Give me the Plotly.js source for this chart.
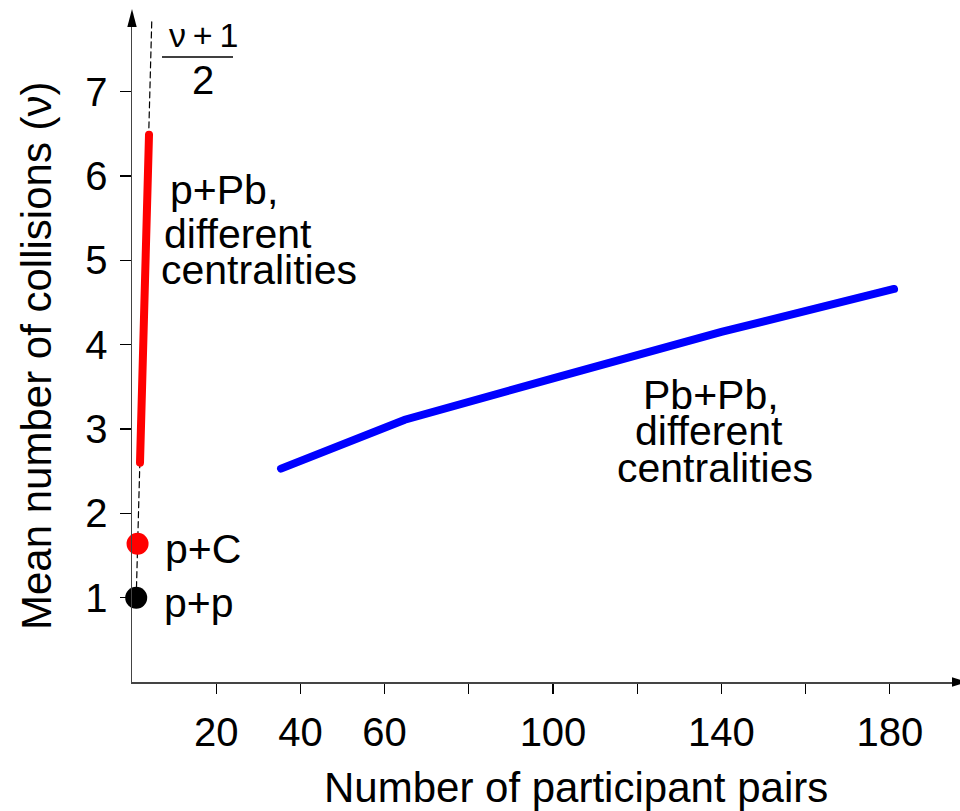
<!DOCTYPE html>
<html><head><meta charset="utf-8">
<script src="https://cdn.plot.ly/plotly-3.0.1.min.js"></script>
<style>html,body{margin:0;padding:0;background:#fff}#chart{width:960px;height:811px}.js-line{stroke-linecap:round}</style>
</head><body><div id="chart"></div>
<script>
// ---- data ----
const guideX = [1, 4.7];            // dashed (ν+1)/2 guide
const guideY = [1, 7.85];
const pPbX = [1.9, 4.04];           // p+Pb, different centralities
const pPbY = [2.6, 6.49];
const PbPbX = [35.4, 64.8, 100, 140, 181];   // Pb+Pb, different centralities
const PbPbY = [2.53, 3.11, 3.60, 4.15, 4.66];
const pCX = [1.32];  const pCY = [1.64];     // p+C
const ppX = [1];     const ppY = [1];        // p+p
const xTickVals = [20, 40, 60, 80, 100, 120, 140, 160, 180];
const xTickText = ['20', '40', '60', '', '100', '', '140', '', '180'];
const yTickVals = [1, 2, 3, 4, 5, 6, 7];
const yTickText = ['1', '2', '3', '4', '5', '6', '7'];
const longTickVals = [120];
const xTitle = 'Number of participant pairs';
const yTitle = 'Mean number of collisions (ν)';

// ---- layout geometry ----
const W = 960, H = 811;
const L = 132, R = 5, T = 18, B = 129;
const PW = W - L - R, PH = H - T - B;
const XMAX = PW / 4.21, YMAX = PH / 84.34;
const Y0 = H - B;
const FONT = 'Liberation Sans, Arial, Helvetica, sans-serif';
const px = x => (x - L) / PW;
const py = y => (Y0 - y) / PH;

function lab(text, xPix, basePix, anchor, size) {
  return {text: text, xref: 'paper', yref: 'paper', x: px(xPix), y: py(basePix - 0.35 * size),
    xanchor: anchor, yanchor: 'middle', showarrow: false, borderpad: 0,
    font: {family: FONT, size: size, color: '#000'}};
}

const traces = [
  {x: guideX, y: guideY, mode: 'lines', line: {color: '#000', width: 1.2, dash: '6px,4px'}, hoverinfo: 'skip'},
  {x: pPbX, y: pPbY, mode: 'lines', line: {color: '#ff0000', width: 8}, name: 'p+Pb'},
  {x: PbPbX, y: PbPbY, mode: 'lines', line: {color: '#0000ff', width: 8}, name: 'Pb+Pb'},
  {x: pCX, y: pCY, mode: 'markers', marker: {color: '#ff0000', size: 22}, cliponaxis: false, name: 'p+C'},
  {x: ppX, y: ppY, mode: 'markers', marker: {color: '#000', size: 22}, cliponaxis: false, name: 'p+p'}
];

const axBase = {showgrid: false, zeroline: false, fixedrange: true};
const layout = {
  width: W, height: H,
  margin: {l: L, r: R, t: T, b: B, pad: 0},
  paper_bgcolor: '#fff', plot_bgcolor: '#fff',
  showlegend: false,
  xaxis: Object.assign({}, axBase, {
    range: [0, XMAX], showline: true, linecolor: '#444', linewidth: 1.5,
    ticks: 'outside', ticklen: 10, tickwidth: 1.3, tickcolor: '#000',
    tickmode: 'array', tickvals: xTickVals, ticktext: xTickText,
    tickfont: {family: FONT, size: 40, color: '#000'}, ticklabelstandoff: 4
  }),
  xaxis2: Object.assign({}, axBase, {
    overlaying: 'x', anchor: 'y', side: 'bottom', range: [0, XMAX],
    ticks: 'inside', ticklen: 10, tickwidth: 1.3, tickcolor: '#000',
    tickmode: 'array', tickvals: xTickVals, showticklabels: false, showline: false
  }),
  xaxis3: Object.assign({}, axBase, {
    overlaying: 'x', anchor: 'y', side: 'bottom', range: [0, XMAX],
    ticks: 'outside', ticklen: 21, tickwidth: 1.3, tickcolor: '#000',
    tickmode: 'array', tickvals: longTickVals, showticklabels: false, showline: false
  }),
  yaxis: Object.assign({}, axBase, {
    range: [0, YMAX], showline: true, linecolor: '#444', linewidth: 1.5,
    ticks: 'outside', ticklen: 11, tickwidth: 1.3, tickcolor: '#000',
    tickmode: 'array', tickvals: yTickVals, ticktext: yTickText,
    tickfont: {family: FONT, size: 40, color: '#000'}, ticklabelstandoff: 4
  }),
  yaxis2: Object.assign({}, axBase, {
    overlaying: 'y', anchor: 'x', side: 'left', range: [0, YMAX],
    ticks: 'inside', ticklen: 8, tickwidth: 1.3, tickcolor: '#000',
    tickmode: 'array', tickvals: yTickVals, showticklabels: false, showline: false
  }),
  shapes: [
    // axis arrowheads
    {type: 'path', xref: 'paper', yref: 'paper', line: {width: 0}, fillcolor: '#000',
     path: 'M' + px(132) + ',' + py(9) + ' L' + px(127.3) + ',' + py(27) + ' L' + px(136.7) + ',' + py(27) + ' Z'},
    {type: 'path', xref: 'paper', yref: 'paper', line: {width: 0}, fillcolor: '#000',
     path: 'M' + px(968) + ',' + py(682) + ' L' + px(952) + ',' + py(677.3) + ' L' + px(952) + ',' + py(686.7) + ' Z'},
    // fraction bar of (ν+1)/2
    {type: 'line', xref: 'paper', yref: 'paper', x0: px(162), x1: px(233), y0: py(57), y1: py(57),
     line: {color: '#000', width: 1.3}}
  ],
  annotations: [
    lab('ν\u2009+\u20091', 203, 47, 'center', 34),
    lab('2', 202.5, 94, 'center', 40),
    lab('p+Pb,', 169, 204, 'left', 41),
    lab('different', 163, 248, 'left', 41),
    lab('centralities', 160, 284, 'left', 41),
    lab('Pb+Pb,', 711, 409, 'center', 41),
    lab('different', 709, 445, 'center', 41),
    lab('centralities', 715, 482, 'center', 41),
    lab('p+C', 164, 563, 'left', 41),
    lab('p+p', 163, 617, 'left', 41),
    lab(xTitle, 576, 802, 'center', 42),
    {text: yTitle, xref: 'paper', yref: 'paper', x: px(36), y: py(356), xanchor: 'center', yanchor: 'middle',
     textangle: -90, showarrow: false, borderpad: 0, font: {family: FONT, size: 42, color: '#000'}}
  ]
};

Plotly.newPlot('chart', traces, layout, {displayModeBar: false, staticPlot: true});
</script>
</body></html>
